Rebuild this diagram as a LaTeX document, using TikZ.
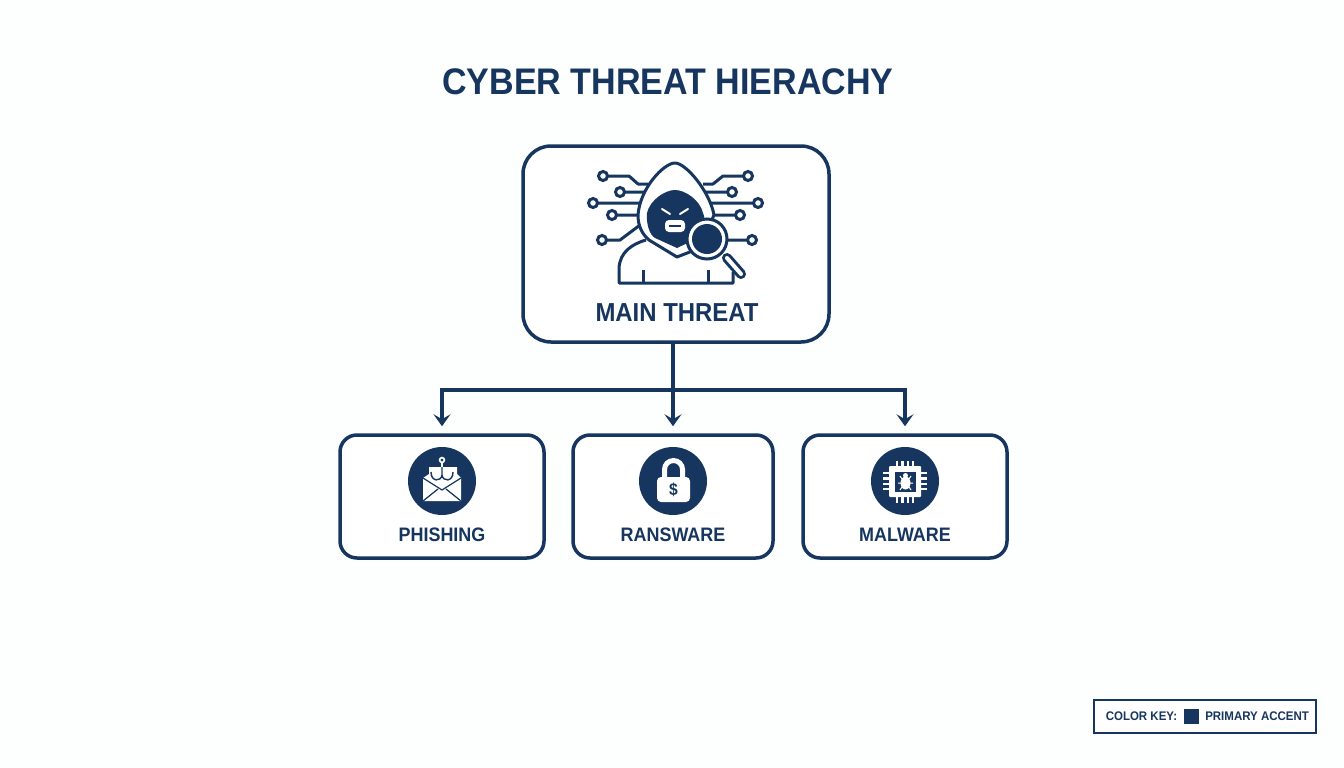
\documentclass[tikz,border=0pt]{standalone}
\usepackage{fontspec}
\setmainfont[BoldFeatures={FakeStretch=0.92}]{Liberation Sans}
\usetikzlibrary{arrows.meta}
\definecolor{navy}{HTML}{16365F}
\definecolor{paper}{HTML}{FDFEFE}

\begin{document}
\begin{tikzpicture}[
            x = 1pt, y = -1pt, % one unit is one pixel, y runs down
            > = {Stealth[length=12pt,width=17pt,inset=5pt]}, % arrow head style
            node distance = 231pt, % distance between the lower boxes
            line width = 3.5pt, % line style
            navy
        ]

        \tikzstyle{threatbox}=[
        draw = navy,
        fill = white,
        rounded corners = 17pt,
        minimum height = 123pt,
        inner sep = 0pt
        ]
        \tikzstyle{badge}=[
        circle,
        fill = navy,
        minimum size = 68pt,
        inner sep = 0pt
        ]
        \tikzstyle{label}=[
        text = navy,
        font = \bfseries\fontsize{19.5}{20}\selectfont,
        inner sep = 0pt
        ]
        \tikzstyle{feed}=[->, shorten > = 7pt]
        \tikzstyle{wire}=[line width = 3pt]
        \tikzstyle{pad}=[wire, fill = white]

        \path[use as bounding box, fill = paper] (0,0) rectangle (1344,768);

        \node (title) [text = navy, inner sep = 0pt, font = \bfseries\fontsize{37}{37}\selectfont] at (668,82) {CYBER THREAT HIERACHY};

        % boxes
        \node (main) [threatbox, rounded corners = 28pt, minimum width = 306pt, minimum height = 196pt] at (676,244) {};
        \node (ransom) [threatbox, minimum width = 200pt] at (673,496.5) {};
        \node (phish) [threatbox, minimum width = 204pt, left of=ransom] {};
        \node (malware) [threatbox, minimum width = 204pt, right of=ransom, xshift = 1pt] {};

        \node (mainlabel) [label, font = \bfseries\fontsize{26}{26}\selectfont] at (677,312.5) {MAIN THREAT};
        \node (phishlabel) [label] at (442,534.5) {PHISHING};
        \node (ransomlabel) [label] at (673,534.5) {RANSWARE};
        \node (malwarelabel) [label] at (905,534.5) {MALWARE};

        % connectors
        \coordinate (bus) at (673,390);
        \draw (main.south -| bus) -- (bus);
        \draw[feed] (bus) -| (phish);
        \draw[feed] (bus) -- (ransom);
        \draw[feed] (bus) -| (malware);

        % hacker: circuit lines
        \draw[wire, line join = round]
            (648,184) -- (638,184) -- (629,176) -- (603,176)
            (645,192) -- (620,192)
            (642,203) -- (593,203)
            (640,215) -- (612,215)
            (640,225) -- (620,240) -- (602,240)
            (703,184) -- (713,184) -- (723,176) -- (748,176)
            (705,192) -- (732,192)
            (708,203) -- (758,203)
            (712,215) -- (740,215)
            (725,240) -- (752,240);
        \foreach \px/\py in {603/176, 620/192, 593/203, 612/215, 602/240, 748/176, 732/192, 758/203, 740/215, 752/240}
            \draw[pad] (\px,\py) circle (4.5);

        % hacker: body, hood, face
        \fill[white] (619,283) -- (619,268) .. controls (620,252) and (632,244) .. (646,240)
            -- (700,250) -- (733,272) -- (733,283) -- cycle;
        \draw[wire, line join = round]
            (646,240) .. controls (632,244) and (620,252) .. (619,268)
            -- (619,283) -- (733,283) -- (733,272);
        \draw[wire] (643,270) -- (643,283) (708,270) -- (708,283);
        \draw[wire, fill = white, line join = round]
            (675,163) .. controls (664,163) and (640,188) .. (638,215)
            .. controls (638,226) and (642,234) .. (649,240)
            -- (677,257) -- (700,248) -- (714,215)
            .. controls (710,192) and (686,163) .. (675,163) -- cycle;
        \fill (675,190) .. controls (665,190) and (650,200) .. (647,213)
            .. controls (646,225) and (650,235) .. (655,238)
            -- (677,248) -- (698,238) .. controls (705,225) and (705,215) .. (703,213)
            .. controls (700,200) and (685,190) .. (675,190) -- cycle;
        \draw[white, line width = 2pt, line cap = round]
            (662,209) -- (670,214) (688,209) -- (680,214);
        \fill[white, rounded corners = 4pt] (665,220) rectangle (685,232);
        \draw[navy, line width = 1.5pt] (669,226) -- (681,226);

        % hacker: magnifier
        \draw[line width = 10pt, line cap = round] (727,258) -- (741,274);
        \draw[white, line width = 4pt, line cap = round] (727,258) -- (741,274);
        \draw[wire, fill = white] (707,239) circle (20);
        \fill (707,239) circle (15);

        % badges
        \node (phishicon) [badge] at (442,481) {};
        \node (ransomicon) [badge] at (673,481) {};
        \node (malwareicon) [badge] at (905,481) {};

        % envelope and hook
        \fill[white] (429,467) -- (457,467) -- (457,474) -- (461,478) -- (461,501) -- (423,501) -- (423,478) -- (429,474) -- cycle;
        \draw[line width = 1.2pt, line join = round] (423,478) -- (442,490) -- (461,478);
        \draw[line width = 1.2pt] (423,501) -- (438,489) (461,501) -- (446,489);
        \draw[line width = 1.4pt] (442,467) -- (442,475) .. controls (441,482) and (431,482) .. (431,472);
        \draw[line width = 1.4pt] (442,475) .. controls (443,482) and (453,482) .. (453,472);
        \draw[white, line width = 2pt] (442,462) -- (442,467);
        \draw[white, line width = 1.6pt] (442,460) circle (2.4);

        % padlock
        \draw[white, line width = 5pt] (664.5,480) -- (664.5,469.5) arc (180:360:9) -- (682.5,480);
        \fill[white, rounded corners = 4pt] (657,477) rectangle (690,502);
        \node (dollar) [text = navy, inner sep = 0pt, font = \bfseries\fontsize{17}{17}\selectfont] at (673.5,490) {\$};

        % chip and bug
        \foreach \pa in {897,902.3,907.7,913} {
            \draw[white, line width = 2.4pt] (\pa,461) -- (\pa,468);
            \draw[white, line width = 2.4pt] (\pa,497) -- (\pa,503);
        }
        \foreach \pb in {473,478.3,483.7,489} {
            \draw[white, line width = 2.4pt] (883,\pb) -- (890,\pb);
            \draw[white, line width = 2.4pt] (920,\pb) -- (927,\pb);
        }
        \fill[white, rounded corners = 1pt] (889,466) rectangle (921,497);
        \fill (895,472) rectangle (916,492);
        \fill[white] (905.5,483) ellipse (5 and 6.5);
        \fill[white] (905.5,475.5) circle (2.5);
        \draw[white, line width = 1pt]
            (900,476) -- (902,479) -- (909,479) -- (911,476)
            (898,483) -- (913,483)
            (900,490) -- (902,487) (911,490) -- (909,487);

        % key
        \node (key) [draw = navy, fill = white, line width = 1.6pt, minimum width = 222pt, minimum height = 33pt, inner sep = 0pt] at (1205,716.5) {};
        \node (keytext) [text = navy, inner sep = 0pt, anchor = west, font = \bfseries\fontsize{12.5}{13}\selectfont] at (1104,716.5) {COLOR KEY:};
        \node (swatch) [fill = navy, minimum size = 15pt, inner sep = 0pt] at (1191.5,716) {};
        \node (keyname) [text = navy, inner sep = 0pt, anchor = west, font = \bfseries\fontsize{12.5}{13}\selectfont] at (1203.5,716.5) {PRIMARY ACCENT};
    \end{tikzpicture}
\end{document}
